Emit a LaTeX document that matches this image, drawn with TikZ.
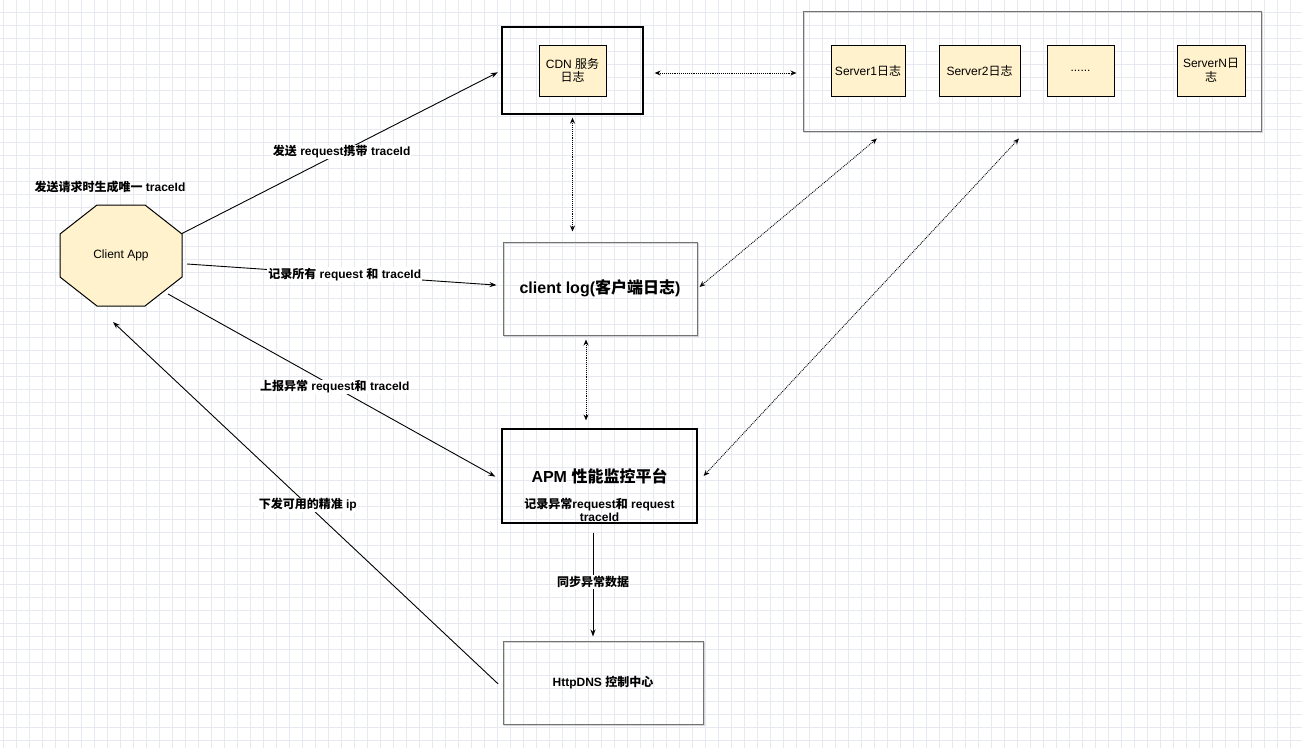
\documentclass[tikz,border=0pt]{standalone}
\usepackage{fontspec}
\setmainfont{Liberation Sans}
\newfontfamily\zhfont{Noto Sans CJK SC}
\newcommand{\zh}[1]{{\zhfont #1}}
\usetikzlibrary{positioning,arrows.meta}
\pgfdeclarelayer{gridlayer}
\pgfdeclarelayer{shapelayer}
\pgfsetlayers{gridlayer,shapelayer,main}
\definecolor{notefill}{HTML}{FFF2CC}
\definecolor{gridcolor}{HTML}{E6E9EF}
\definecolor{shadowgray}{HTML}{D4D4D4}
\tikzset{>=Stealth}
\tikzstyle{plaintext} = [font=\fontsize{12}{13.5}\selectfont]
\tikzstyle{gridline}  = [draw=gridcolor, line width=0.8pt]
\tikzstyle{logbox}    = [draw, fill=notefill, line width=1pt, align=center,
                         minimum height=51pt, inner sep=2pt, plaintext]
\tikzstyle{outerbox}  = [draw, line width=1.3pt, inner sep=0pt]
\tikzstyle{shadowbox} = [draw=black!55, line width=1pt, inner sep=0pt,
                         preaction={draw=shadowgray, line width=1.5pt,
                           transform canvas={shift={(1.5pt,-1.5pt)}}}]
\tikzstyle{arrow}     = [-{Stealth[length=7pt,width=5pt]},
                         line width=0.9pt]
\tikzstyle{dotarrow}  = [{Stealth[open,length=6pt,width=5pt]}-{Stealth[open,length=6pt,width=5pt]},
                         densely dotted, line width=0.9pt]
\tikzstyle{edgelabel} = [fill=white, inner sep=1pt,
                         font=\fontsize{12}{13}\selectfont\bfseries]
\tikzstyle{titlefont} = [font=\fontsize{16}{18}\selectfont\bfseries]

\begin{document}
\begin{tikzpicture}[x=1pt, y=-1pt]

  % Background grid
  \useasboundingbox (0,0) rectangle (1302,748);
  \begin{pgfonlayer}{gridlayer}
    \fill[white] (0,0) rectangle (1302,748);
    \foreach \gx in {3,16,...,1302} \draw[gridline] (\gx,0) -- (\gx,748);
    \foreach \gy in {12,25,...,748} \draw[gridline] (0,\gy) -- (1302,\gy);
  \end{pgfonlayer}

  % Nodes
  \node[inner sep=0pt, outer sep=0pt, minimum width=122pt, minimum height=101pt,
    plaintext] (app) at (121,255.5) {Client App};
  \node[edgelabel, fill=none] (appnote) at (110,187) {\zh{发送请求时生成唯一} traceId};

  \node[outerbox, minimum width=141pt, minimum height=87pt] (cdn) at (572.5,70.5) {};
  \node[logbox, minimum width=67pt] (cdnlog) at (cdn) {CDN \zh{服务}\\\zh{日志}};

  \node[shadowbox, minimum width=458pt, minimum height=120pt] (srv) at (1032,71) {};
  \node[logbox, minimum width=74pt] (s1) at (868,70.5) {Server1\zh{日志}};
  \node[logbox, minimum width=81pt, right=33pt of s1] (s2) {Server2\zh{日志}};
  \node[logbox, minimum width=67pt, right=26pt of s2] (s3) {......};
  \node[logbox, minimum width=68pt, right=62pt of s3] (sN) {ServerN\zh{日}\\\zh{志}};

  \node[shadowbox, minimum width=194pt, minimum height=93pt, titlefont] (clog)
    at (600,288.5) {client log(\zh{客户端日志})};
  \node[outerbox, line width=1.2pt, minimum width=195pt, minimum height=94pt,
    titlefont] (apm) at (599.5,476) {APM \zh{性能监控平台}};
  \node[edgelabel, fill=none, align=center] (apmnote) at (599.5,509.5)
    {\zh{记录异常}request\zh{和} request\\traceId};
  \node[shadowbox, minimum width=200pt, minimum height=83pt, edgelabel, fill=none]
    (dns) at (603,682.5) {HttpDNS \zh{控制中心}};

  % Octagon of the app
  \begin{pgfonlayer}{shapelayer}
    \draw[fill=notefill, line width=1pt]
      ([xshift=37pt]app.north west) -- ([xshift=-37pt]app.north east)
      -- ([yshift=-29pt]app.north east) -- ([yshift=29pt]app.south east)
      -- ([xshift=-37pt]app.south east) -- ([xshift=37pt]app.south west)
      -- ([yshift=29pt]app.south west) -- ([yshift=-29pt]app.north west) -- cycle;
  \end{pgfonlayer}

  % Edges
  \draw[arrow, shorten >=4pt] ([yshift=22pt]app.east) -- (cdn.west)
    node[edgelabel, midway] {\zh{发送} request\zh{携带} traceId};
  \draw[arrow, shorten >=6pt] ([xshift=5pt,yshift=-8.5pt]app.east) -- ([yshift=3pt]clog.west)
    node[edgelabel, midway] {\zh{记录所有} request \zh{和} traceId};
  \draw[arrow, shorten >=7pt] ([xshift=-14pt,yshift=12pt]app.south east) -- ([yshift=-4pt]apm.west)
    node[edgelabel, midway] {\zh{上报异常} request\zh{和} traceId};
  \draw[arrow, shorten <=6pt] ([yshift=-5.5pt]dns.west) -- ([xshift=-8pt,yshift=-16pt]app.south)
    node[edgelabel, midway] {\zh{下发可用的精准} ip};
  \coordinate (apmout) at ([xshift=-6.5pt]apm.south);
  \draw[arrow, shorten <=9pt, shorten >=4pt] (apmout) -- (apmout |- dns.north)
    node[edgelabel, midway] {\zh{同步异常数据}};

  % Dotted links between logs
  \draw[dotarrow, shorten <=11pt, shorten >=6pt] ([yshift=-2.5pt]cdn.east) -- ([yshift=-2pt]srv.west);
  \draw[dotarrow, shorten <=3pt, shorten >=10pt] (cdn.south) -- (cdn.south |- clog.north);
  \coordinate (clogout) at ([xshift=-14pt]clog.south);
  \draw[dotarrow, shorten <=4pt, shorten >=8pt] (clogout) -- (clogout |- apm.north);
  \draw[dotarrow] ([xshift=-155pt,yshift=-7pt]srv.south) -- ([xshift=2pt,yshift=1.5pt]clog.east);
  \draw[dotarrow] ([xshift=-13pt,yshift=-7pt]srv.south) -- ([xshift=6pt]apm.east);

\end{tikzpicture}
\end{document}
